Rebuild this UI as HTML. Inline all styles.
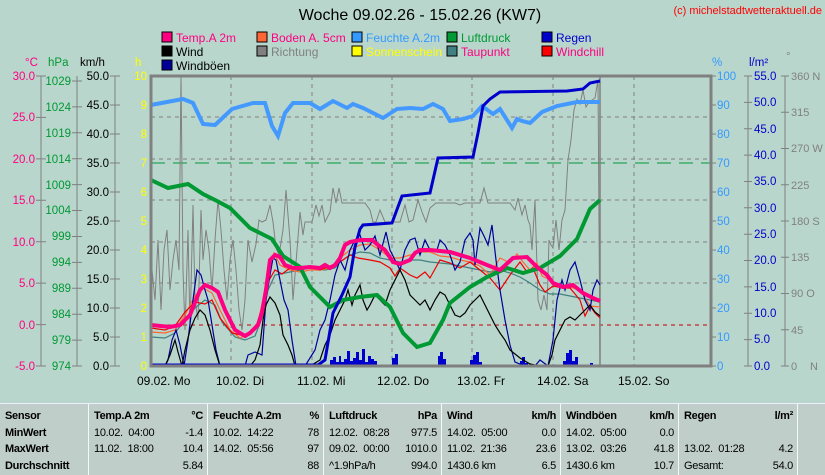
<!DOCTYPE html>
<html><head><meta charset="utf-8"><style>
body{margin:0;background:#b9d6cd;width:825px;height:474px;overflow:hidden;font-family:"Liberation Sans",sans-serif}
svg{position:absolute;left:0;top:0}
.t{position:absolute;top:403px;left:0;width:825px;height:71px;background:#bfcec9;border-top:1px solid #eef;}
.c{position:absolute;top:0;height:71px;border-left:1px solid #f4f8f6;font-size:11px;letter-spacing:-0.3px;line-height:16.7px;padding-top:4px;box-sizing:border-box}
.c div{white-space:pre;display:flex;justify-content:space-between;padding:0 4px 0 5px;height:16.7px}
.b{font-weight:bold}
</style></head><body>
<svg width="825" height="403" viewBox="0 0 825 403" font-family="Liberation Sans, sans-serif" font-size="11.5">
<text x="420" y="20" font-size="16" text-anchor="middle">Woche 09.02.26 - 15.02.26 (KW7)</text>
<text x="822" y="14" font-size="11" fill="#ff0000" text-anchor="end">(c) michelstadtwetteraktuell.de</text>
<g font-size="12">
<rect x="162" y="32" width="10" height="10" fill="#ff0080" stroke="#000"/><text x="176" y="42" fill="#ff0080">Temp.A 2m</text>
<rect x="257" y="32" width="10" height="10" fill="#ff6633" stroke="#000"/><text x="271" y="42" fill="#ff0080">Boden A. 5cm</text>
<rect x="352" y="32" width="10" height="10" fill="#3399ff" stroke="#000"/><text x="366" y="42" fill="#3399ff">Feuchte A.2m</text>
<rect x="447" y="32" width="10" height="10" fill="#009933" stroke="#000"/><text x="461" y="42" fill="#009933">Luftdruck</text>
<rect x="542" y="32" width="10" height="10" fill="#0000cc" stroke="#000"/><text x="556" y="42" fill="#0000cc">Regen</text>
<rect x="162" y="46" width="10" height="10" fill="#000" stroke="#000"/><text x="176" y="56">Wind</text>
<rect x="257" y="46" width="10" height="10" fill="#808080" stroke="#000"/><text x="271" y="56" fill="#808080">Richtung</text>
<rect x="352" y="46" width="10" height="10" fill="#ffff00" stroke="#000"/><text x="366" y="56" fill="#ffff00">Sonnenschein</text>
<rect x="447" y="46" width="10" height="10" fill="#408080" stroke="#000"/><text x="461" y="56" fill="#ff0080">Taupunkt</text>
<rect x="542" y="46" width="10" height="10" fill="#ff0000" stroke="#000"/><text x="556" y="56" fill="#ff0080">Windchill</text>
<rect x="162" y="60" width="10" height="10" fill="#000099" stroke="#000"/><text x="176" y="70">Windböen</text>
</g>
<text x="25" y="66" fill="#ff0080">°C</text><text x="48" y="66" fill="#009933">hPa</text><text x="80" y="66">km/h</text><text x="135" y="66" fill="#ffff00">h</text>
<text x="712" y="66" fill="#3399ff">%</text><text x="749" y="66" fill="#0000cc">l/m²</text><text x="786" y="60" fill="#808080">°</text>
<g stroke="#808080" fill="none">
<line x1="41" y1="76" x2="41" y2="366"/><line x1="77" y1="76" x2="77" y2="366"/><line x1="115" y1="76" x2="115" y2="366"/>
<path d="M36 76h10M36 117.4h10M36 158.9h10M36 200.3h10M36 241.7h10M36 283.1h10M36 324.6h10M36 366h10"/>
<path d="M72 81h10M72 106.9h10M72 132.8h10M72 158.7h10M72 184.6h10M72 210.5h10M72 236.5h10M72 262.4h10M72 288.3h10M72 314.2h10M72 340.1h10M72 366h10"/>
<path d="M110 76h10M110 105h10M110 134h10M110 163h10M110 192h10M110 221h10M110 250h10M110 279h10M110 308h10M110 337h10M110 366h10"/>
<path d="M710 76h6M710 105h6M710 134h6M710 163h6M710 192h6M710 221h6M710 250h6M710 279h6M710 308h6M710 337h6M710 366h6"/>
<line x1="748" y1="76" x2="748" y2="366"/><path d="M744 76h8M744 102.4h8M744 128.7h8M744 155.1h8M744 181.5h8M744 207.8h8M744 234.2h8M744 260.5h8M744 286.9h8M744 313.3h8M744 339.6h8M744 366h8"/>
<line x1="785" y1="76" x2="785" y2="366"/><path d="M781 76h8M781 112.3h8M781 148.5h8M781 184.8h8M781 221h8M781 257.3h8M781 293.5h8M781 329.8h8M781 366h8"/>
</g>
<g fill="#ff0080" text-anchor="end"><text x="35" y="80">30.0</text><text x="35" y="121">25.0</text><text x="35" y="163">20.0</text><text x="35" y="204">15.0</text><text x="35" y="246">10.0</text><text x="35" y="287">5.0</text><text x="35" y="329">0.0</text><text x="35" y="370">-5.0</text></g>
<g fill="#009933" text-anchor="end"><text x="71" y="85">1029</text><text x="71" y="111">1024</text><text x="71" y="137">1019</text><text x="71" y="163">1014</text><text x="71" y="189">1009</text><text x="71" y="214">1004</text><text x="71" y="240">999</text><text x="71" y="266">994</text><text x="71" y="292">989</text><text x="71" y="318">984</text><text x="71" y="344">979</text><text x="71" y="370">974</text></g>
<g text-anchor="end"><text x="109" y="80">50.0</text><text x="109" y="109">45.0</text><text x="109" y="138">40.0</text><text x="109" y="167">35.0</text><text x="109" y="196">30.0</text><text x="109" y="225">25.0</text><text x="109" y="254">20.0</text><text x="109" y="283">15.0</text><text x="109" y="312">10.0</text><text x="109" y="341">5.0</text><text x="109" y="370">0.0</text></g>
<g fill="#ffff00" text-anchor="end"><text x="147" y="80">10</text><text x="147" y="109">9</text><text x="147" y="138">8</text><text x="147" y="167">7</text><text x="147" y="196">6</text><text x="147" y="225">5</text><text x="147" y="254">4</text><text x="147" y="283">3</text><text x="147" y="312">2</text><text x="147" y="341">1</text><text x="147" y="370">0</text></g>
<g fill="#3399ff"><text x="717" y="80">100</text><text x="717" y="109">90</text><text x="717" y="138">80</text><text x="717" y="167">70</text><text x="717" y="196">60</text><text x="717" y="225">50</text><text x="717" y="254">40</text><text x="717" y="283">30</text><text x="717" y="312">20</text><text x="717" y="341">10</text><text x="717" y="370">0</text></g>
<g fill="#0000cc"><text x="754" y="80">55.0</text><text x="754" y="106">50.0</text><text x="754" y="133">45.0</text><text x="754" y="159">40.0</text><text x="754" y="185">35.0</text><text x="754" y="212">30.0</text><text x="754" y="238">25.0</text><text x="754" y="264">20.0</text><text x="754" y="291">15.0</text><text x="754" y="317">10.0</text><text x="754" y="343">5.0</text><text x="754" y="370">0.0</text></g>
<g fill="#808080" font-size="11"><text x="791" y="80">360 N</text><text x="791" y="116">315</text><text x="791" y="152">270 W</text><text x="791" y="189">225</text><text x="791" y="225">180 S</text><text x="791" y="261">135</text><text x="791" y="297">90  O</text><text x="791" y="334">45</text><text x="791" y="370">0</text><text x="810" y="370">N</text></g>
<g stroke="#808080" stroke-dasharray="4,4" fill="none">
<path d="M231 76V366M312 76V366M392 76V366M472 76V366M553 76V366M634 76V366"/>
<path d="M151 117H710M151 159H710M151 200H710M151 242H710M151 283H710"/>
</g>
<line x1="151" y1="163" x2="710" y2="163" stroke="#009933" stroke-dasharray="14,8"/>
<line x1="151" y1="325" x2="710" y2="325" stroke="#cc0000" stroke-dasharray="4,4"/>
<g fill="#0000cc"><path d="M330 366V360h3v-3h3v5h3v-6h2v6h3v-3h3v-8h3v10h3v-3h3v-6h3v8h3v-11h3v13h3v-6h3v3h3v2h3V366zM392 366v-8h3v-4h3v12zM438 366v-10h2v-4h3v7h3v7zM470 366v-6h3v-5h3v-3h3v10h3v4zM520 366v-5h2v-4h3v6h3v3zM563 366v-5h3v-8h3v-3h3v11h3v-4h3v9zM590 366v-3h3v3z"/></g>
<polyline fill="none" stroke="#808080" stroke-width="1" points="151,260 155,300 158,240 161,310 164,250 167,230 170,290 173,260 176,240 179,270 181,76 183,270 185,330 188,230 190,330 193,205 195,300 198,320 201,210 203,260 206,230 209,250 212,290 215,240 218,200 221,230 224,270 227,300 230,260 233,240 236,270 239,310 242,330 245,300 248,240 252,262 256,244 259,220 262,222 266,220 270,205 273,222 276,248 279,255 283,230 286,190 290,240 293,300 297,250 300,212 303,235 305,222 310,222 312,222 316,205 319,216 322,205 325,222 330,212 333,188 336,203 339,188 342,203 350,203 355,203 360,203 365,203 370,210 373,222 376,222 380,210 385,222 395,222 400,222 405,205 409,222 413,220 416,208 418,200 422,212 426,222 430,208 436,203 440,203 445,203 450,203 455,203 460,205 465,203 470,203 475,203 480,203 484,188 488,203 495,203 500,203 505,203 510,203 515,210 518,198 522,215 525,205 528,220 530,225 532,250 535,200 538,300 541,310 544,295 547,310 549,240 551,245 553,248 556,220 559,250 562,220 565,210 568,160 571,140 574,110 577,99 580,104 583,90 586,107 589,102 592,100 595,98 598,80 600,366"/>
<line x1="600" y1="76" x2="600" y2="366" stroke="#808080" stroke-width="1.5"/>
<polyline fill="none" stroke="#408080" stroke-width="1.2" points="151,337 165,338 175,333 185,320 195,308 205,300 215,305 222,322 235,337 245,340 255,336 262,318 268,290 275,275 290,272 300,270 310,268 325,270 335,268 340,262 350,255 360,252 370,253 380,258 390,260 400,262 410,260 420,260 430,262 440,263 450,264 460,266 470,268 480,270 490,272 500,270 510,273 520,277 530,283 540,290 550,294 560,294 570,296 580,298 590,300 600,302"/>
<polyline fill="none" stroke="#ff6633" stroke-width="1.2" points="151,332 165,333 175,330 185,315 195,296 203,288 212,293 220,310 230,330 240,338 250,333 258,322 263,300 268,270 274,253 280,265 290,270 300,272 310,270 320,270 330,268 340,258 350,250 360,245 370,244 380,250 390,258 400,258 410,255 420,252 430,252 440,256 450,257 460,260 470,262 480,266 490,275 500,258 510,263 517,254 523,262 530,270 537,263 542,276 550,280 560,285 570,287 580,290 590,306 600,307"/>
<polyline fill="none" stroke="#ee0000" stroke-width="1.2" points="151,328 165,330 175,326 185,312 195,302 205,304 212,300 220,318 232,333 245,336 255,330 262,310 268,282 275,270 282,274 290,268 300,270 310,267 320,270 330,266 340,262 350,255 358,258 370,260 380,262 390,268 395,276 400,268 410,275 417,278 425,272 430,278 440,260 450,263 460,268 470,262 480,270 490,278 500,290 510,275 520,262 527,272 533,268 540,285 545,292 553,286 563,288 570,288 580,300 585,316 590,306 595,313 600,318"/>
<polyline fill="none" stroke="#000099" stroke-width="1.2" points="151,366 165,366 168,360 172,340 176,330 180,345 184,366 188,340 193,300 197,270 201,275 205,290 208,300 212,325 216,350 220,366 245,366 248,355 255,352 262,355 266,300 270,275 273,258 276,260 280,280 284,300 288,310 292,340 296,366 305,366 315,350 320,330 325,320 330,300 335,275 340,260 345,270 350,250 355,240 360,235 365,250 370,245 375,236 380,255 386,232 390,250 395,260 400,270 405,250 410,240 415,238 420,255 425,240 430,250 437,250 440,240 445,245 450,255 455,270 460,262 465,240 470,233 473,240 475,265 480,228 484,236 488,245 492,225 496,260 500,290 505,320 510,345 515,362 525,366 535,366 540,360 548,366 553,340 557,300 562,280 565,290 570,270 575,262 580,280 585,300 590,310 593,290 597,280 600,285"/>
<polyline fill="none" stroke="#000" stroke-width="1.2" points="151,366 165,366 170,355 175,340 178,352 182,366 185,350 190,330 195,318 200,310 205,315 210,330 215,350 220,366 250,366 255,360 260,345 263,320 266,305 270,297 275,303 280,315 283,335 288,345 292,355 295,366 310,366 320,360 325,345 330,335 335,320 340,310 345,300 348,290 352,305 355,295 360,285 363,300 367,310 370,305 375,295 380,300 385,305 390,290 395,280 400,270 405,280 410,295 415,300 420,305 425,300 430,310 435,300 440,292 445,295 450,305 455,315 460,317 465,313 470,305 475,300 480,295 485,305 490,315 495,325 500,333 505,340 510,350 520,358 530,364 540,366 548,366 552,355 555,340 560,330 565,320 570,317 575,320 580,315 585,310 590,305 595,312 600,316"/>
<polyline fill="none" stroke="#009933" stroke-width="4" points="151,180 168,188 188,184 203,194 217,201 230,208 250,228 260,233 272,239 283,256 300,267 310,287 330,307 343,300 360,297 377,295 390,307 403,333 417,347 430,343 443,320 450,303 470,287 487,277 507,268 523,273 540,268 560,256 577,239 590,209 600,200"/>
<polyline fill="none" stroke="#4499ff" stroke-width="4" points="151,105 183,99 193,103 203,124 215,125 232,109 253,103 265,103 272,126 278,136 285,113 293,103 310,103 320,109 333,101 347,108 353,104 363,108 383,118 397,109 410,108 423,109 433,104 443,109 450,121 463,119 473,116 482,106 493,114 500,109 512,128 517,119 522,121 530,123 542,112 557,106 577,102 600,102"/>
<polyline fill="none" stroke="#0000cc" stroke-width="3" points="151,365 318,365 325,360 333,313 342,295 350,277 355,247 360,229 363,225 392,223 402,196 430,193 438,158 473,157 478,133 483,106 490,99 500,92 567,91 583,89 590,83 600,81"/>
<polyline fill="none" stroke="#ff0080" stroke-width="4" points="151,325 170,327 180,325 190,315 200,290 205,285 212,288 218,292 225,310 235,330 245,336 250,333 258,325 262,312 266,290 270,260 275,255 280,257 285,265 293,268 300,268 310,267 320,268 325,265 330,268 335,265 340,258 345,245 350,242 360,240 372,240 378,245 385,250 393,262 400,264 410,260 415,253 420,250 430,250 450,252 470,258 487,265 500,270 513,258 527,257 537,267 547,275 553,283 563,287 573,285 583,293 593,298 600,301"/>
<line x1="151" y1="366" x2="600" y2="366" stroke="#0000cc" stroke-width="3"/>
<rect x="151" y="76" width="560" height="290" fill="none" stroke="#808080" stroke-width="3"/>
<g font-size="12"><text x="137" y="385">09.02.  Mo</text><text x="216" y="385">10.02.  Di</text><text x="297" y="385">11.02.  Mi</text><text x="377" y="385">12.02.  Do</text><text x="457" y="385">13.02.  Fr</text><text x="537" y="385">14.02.  Sa</text><text x="618" y="385">15.02.  So</text></g>
</svg>
<div class="t">
<div class="c b" style="left:0;width:88px;border-left:none"><div>Sensor</div><div>MinWert</div><div>MaxWert</div><div>Durchschnitt</div></div>
<div class="c" style="left:88px;width:119px"><div class="b"><span>Temp.A 2m</span><span>°C</span></div><div><span>10.02.  04:00</span><span>-1.4</span></div><div><span>11.02.  18:00</span><span>10.4</span></div><div><span></span><span>5.84</span></div></div>
<div class="c" style="left:207px;width:116px"><div class="b"><span>Feuchte A.2m</span><span>%</span></div><div><span>10.02.  14:22</span><span>78</span></div><div><span>14.02.  05:56</span><span>97</span></div><div><span></span><span>88</span></div></div>
<div class="c" style="left:323px;width:118px"><div class="b"><span>Luftdruck</span><span>hPa</span></div><div><span>12.02.  08:28</span><span>977.5</span></div><div><span>09.02.  00:00</span><span>1010.0</span></div><div><span>^1.9hPa/h</span><span>994.0</span></div></div>
<div class="c" style="left:441px;width:119px"><div class="b"><span>Wind</span><span>km/h</span></div><div><span>14.02.  05:00</span><span>0.0</span></div><div><span>11.02.  21:36</span><span>23.6</span></div><div><span>1430.6 km</span><span>6.5</span></div></div>
<div class="c" style="left:560px;width:118px"><div class="b"><span>Windböen</span><span>km/h</span></div><div><span>14.02.  05:00</span><span>0.0</span></div><div><span>13.02.  03:26</span><span>41.8</span></div><div><span>1430.6 km</span><span>10.7</span></div></div>
<div class="c" style="left:678px;width:120px;border-right:1px solid #f4f8f6"><div class="b"><span>Regen</span><span>l/m²</span></div><div><span></span><span></span></div><div><span>13.02.  01:28</span><span>4.2</span></div><div><span>Gesamt:</span><span>54.0</span></div></div>
</div>
</body></html>
